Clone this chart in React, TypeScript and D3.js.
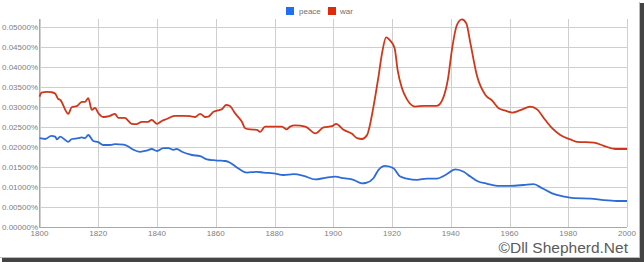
import React from "react";
import * as d3 from "d3";

const warYears = [1800, 1800.7, 1802.5, 1804, 1805.3, 1806.4, 1807, 1809.8, 1811, 1812.7, 1814.4, 1815.5, 1816.6, 1817.8, 1818.9, 1820, 1821.7, 1824, 1825.7, 1826.8, 1829, 1831.4, 1833, 1834.8, 1837, 1838.2, 1840, 1841.6, 1843.3, 1846, 1849, 1851.3, 1853, 1854.7, 1856.4, 1857.5, 1859.2, 1861.5, 1862, 1863.5, 1864.7, 1866.6, 1868.9, 1870, 1871.7, 1874, 1875.1, 1876.8, 1880.2, 1882.5, 1884.2, 1885.3, 1887, 1890.5, 1893.9, 1896.7, 1899.6, 1901, 1903.5, 1906.4, 1908.1, 1909.8, 1911.5, 1913.7, 1915.4, 1916.6, 1918, 1919.4, 1920.9, 1921.9, 1923.4, 1925.1, 1927.9, 1930.8, 1935.3, 1937.4, 1939.1, 1940.4, 1942.1, 1943.8, 1945.3, 1946.7, 1949, 1951.8, 1954.1, 1956.3, 1958.6, 1960.9, 1963.7, 1967.1, 1969.4, 1971.7, 1974.5, 1977.3, 1980.7, 1983, 1988.7, 1992.1, 1996.1, 2000];
const warValues = [0.0326, 0.0336, 0.0338, 0.0337, 0.0334, 0.032, 0.0318, 0.0283, 0.03, 0.0302, 0.0313, 0.0313, 0.0322, 0.0293, 0.0298, 0.0285, 0.0275, 0.0278, 0.0283, 0.0273, 0.0273, 0.0258, 0.0257, 0.0263, 0.0263, 0.0268, 0.0258, 0.0265, 0.027, 0.0278, 0.0278, 0.0277, 0.0275, 0.0283, 0.0275, 0.0276, 0.0288, 0.0293, 0.0294, 0.0305, 0.0303, 0.0284, 0.0263, 0.0247, 0.0244, 0.0243, 0.0238, 0.0251, 0.0251, 0.0251, 0.0244, 0.0251, 0.0254, 0.0251, 0.0234, 0.0249, 0.0252, 0.0258, 0.0243, 0.0233, 0.0222, 0.022, 0.023, 0.0301, 0.0376, 0.0434, 0.0474, 0.0466, 0.0447, 0.0393, 0.0347, 0.0319, 0.0301, 0.0303, 0.0303, 0.0322, 0.0372, 0.0443, 0.0505, 0.0519, 0.0509, 0.0459, 0.0376, 0.033, 0.0316, 0.0297, 0.0291, 0.0286, 0.0292, 0.0301, 0.0294, 0.0272, 0.0247, 0.023, 0.0219, 0.0213, 0.0211, 0.0203, 0.0195, 0.0195];

const peaceYears = [1800, 1802, 1804, 1805.3, 1806, 1807, 1809.8, 1811, 1813.2, 1814.4, 1815.5, 1816.6, 1818.3, 1820, 1821.7, 1824, 1825.7, 1828.6, 1830.3, 1832, 1834.2, 1836.5, 1838.2, 1840, 1842.2, 1843.9, 1845.6, 1846.7, 1848.5, 1851.9, 1854.7, 1857, 1859.2, 1861, 1863.2, 1864.3, 1867.2, 1870.6, 1874, 1876.3, 1879.7, 1883.1, 1886.5, 1889.9, 1893.9, 1897.3, 1900.7, 1903.5, 1906.9, 1909.8, 1911, 1913.7, 1915.4, 1917.7, 1920.5, 1922.8, 1925.1, 1928.5, 1931.9, 1935.3, 1938.2, 1941.6, 1944.4, 1946.7, 1949, 1952.4, 1955.8, 1960.3, 1964.8, 1968.2, 1971.1, 1974.5, 1978.5, 1981.9, 1987.6, 1992.1, 1996.6, 2000];
const peaceValues = [0.0222, 0.022, 0.0228, 0.0226, 0.0219, 0.0226, 0.0213, 0.022, 0.0222, 0.0224, 0.0222, 0.023, 0.0215, 0.0212, 0.0205, 0.0205, 0.0207, 0.0206, 0.0201, 0.0193, 0.0188, 0.0191, 0.0195, 0.019, 0.0197, 0.0197, 0.0193, 0.0195, 0.0188, 0.018, 0.0177, 0.0169, 0.0167, 0.0166, 0.0165, 0.0163, 0.0149, 0.0136, 0.0138, 0.0136, 0.0134, 0.013, 0.0132, 0.0128, 0.0119, 0.0123, 0.0126, 0.0122, 0.0118, 0.0109, 0.011, 0.0122, 0.0143, 0.0153, 0.0147, 0.0126, 0.0121, 0.0118, 0.0121, 0.0121, 0.013, 0.0144, 0.0138, 0.0126, 0.0115, 0.0108, 0.0103, 0.0103, 0.0105, 0.0107, 0.0097, 0.0084, 0.0076, 0.0072, 0.0071, 0.0067, 0.0065, 0.0065];

const yTicks = [0, 0.005, 0.01, 0.015, 0.02, 0.025, 0.03, 0.035, 0.04, 0.045, 0.05];
const xTicks = [1800, 1820, 1840, 1860, 1880, 1900, 1920, 1940, 1960, 1980, 2000];
const seriesNames = ["peace", "war"];
const seriesColors = ["#2d6cd6", "#d0361a"];
const credit = "\u00A9Dll Shepherd.Net";

const W = 644;
const H = 262;
const left = 39.5;
const right = 627;
const top = 19;
const bottom = 227;

export default function App() {
  const x = d3.scaleLinear().domain([1800, 2000]).range([left, right]);
  const y = d3.scaleLinear().domain([0, 0.052]).range([bottom, top]);
  const line = d3
    .line<[number, number]>()
    .x((d) => x(d[0]))
    .y((d) => y(d[1]))
    .curve(d3.curveMonotoneX);
  const peace = peaceYears.map((yr, i) => [yr, peaceValues[i]] as [number, number]);
  const war = warYears.map((yr, i) => [yr, warValues[i]] as [number, number]);
  const fmt = (v: number) => d3.format(".5f")(v) + "%";
  const font = "Liberation Sans, Arial, sans-serif";

  return (
    <svg
      width={W}
      height={H}
      style={{ position: "fixed", left: 0, top: 0, background: "#fff" }}
      fontFamily={font}
    >
      <rect x={0} y={0} width={W} height={H} fill="#fff" />
      {/* grid */}
      {yTicks.map((t) => (
        <line key={"gy" + t} x1={left} x2={right} y1={Math.round(y(t)) + 0.5} y2={Math.round(y(t)) + 0.5} stroke="#cfcfcf" strokeWidth={1} />
      ))}
      {xTicks.map((t) => (
        <line key={"gx" + t} x1={Math.round(x(t)) + 0.5} x2={Math.round(x(t)) + 0.5} y1={top} y2={bottom} stroke="#cfcfcf" strokeWidth={1} />
      ))}
      {/* axes */}
      <line x1={left} x2={left} y1={top} y2={bottom + 0.5} stroke="#a8a8a8" strokeWidth={1} />
      <line x1={left} x2={right} y1={bottom + 0.5} y2={bottom + 0.5} stroke="#a8a8a8" strokeWidth={1} />
      {/* y labels */}
      {yTicks.map((t) => (
        <text key={"ly" + t} x={left - 1.5} y={y(t) + 3} fontSize={8} fill="#808080" textAnchor="end">
          {fmt(t)}
        </text>
      ))}
      {/* x labels */}
      {xTicks.map((t) => (
        <text key={"lx" + t} x={x(t)} y={bottom + 9} fontSize={8} fill="#808080" textAnchor="middle">
          {t}
        </text>
      ))}
      {/* lines */}
      <path d={line(peace) || ""} fill="none" stroke={seriesColors[0]} strokeWidth={1.8} strokeLinejoin="round" />
      <path d={line(war) || ""} fill="none" stroke={seriesColors[1]} strokeWidth={1.8} strokeLinejoin="round" />
      {/* legend */}
      <rect x={286} y={7} width={8} height={8} fill="#1f6ff0" />
      <text x={299} y={13.5} fontSize={8} fill="#707070">{seriesNames[0]}</text>
      <rect x={328} y={7} width={8} height={8} fill="#e02a0c" />
      <text x={340} y={13.5} fontSize={8} fill="#707070">{seriesNames[1]}</text>
      {/* credit */}
      <text x={628} y={252.5} fontSize={15.5} fill="#5a5a5a" textAnchor="end">{credit}</text>
      {/* shadow frame */}
      <rect x={639} y={2} width={1} height={H - 2} fill="#bbb" />
      <rect x={640} y={3} width={4} height={H - 3} fill="#444" />
      <rect x={0} y={257} width={640} height={1} fill="#bbb" />
      <rect x={2} y={258} width={642} height={4} fill="#444" />
    </svg>
  );
}
